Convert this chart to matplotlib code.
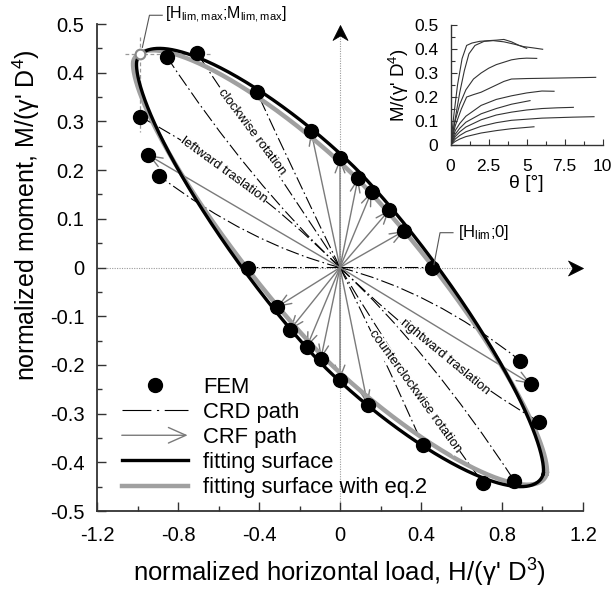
import numpy as np
import matplotlib
matplotlib.use("Agg")
import matplotlib.pyplot as plt
from matplotlib.path import Path
from matplotlib.patches import PathPatch, FancyArrowPatch
from matplotlib.lines import Line2D
from matplotlib.legend_handler import HandlerBase
from matplotlib.ticker import MultipleLocator, FixedLocator

plt.rcParams['font.family'] = ['Liberation Sans', 'DejaVu Sans']
plt.rcParams['mathtext.default'] = 'regular'

# ---------------- data ----------------
# FEM results (normalized H, normalized M)
fem_H = [-0.854, -0.706, -0.410, -0.143, 0.000, 0.089, 0.156, 0.243, 0.316, 0.453,
         -0.988, -0.947, -0.892, -0.456,
         0.889, 0.943, 0.984, 0.861, 0.708, 0.408, 0.137, 0.000, -0.095, -0.164, -0.247, -0.311]
fem_M = [0.432, 0.440, 0.360, 0.280, 0.224, 0.184, 0.156, 0.118, 0.075, 0.000,
         0.310, 0.231, 0.188, 0.000,
         -0.191, -0.239, -0.317, -0.438, -0.443, -0.364, -0.282, -0.230, -0.188, -0.163, -0.128, -0.081]

# CRD paths: end point and a mid point of each (curved) path, starting at origin
crd_end_H = [-0.854, -0.706, -0.410, -0.988, -0.892, -0.456, 0.453, 0.861, 0.708, 0.408, 0.984, 0.889]
crd_end_M = [0.432, 0.440, 0.360, 0.310, 0.188, 0.000, 0.000, -0.438, -0.443, -0.364, -0.317, -0.191]
crd_mid_H = [-0.435, -0.355, -0.208, -0.490, -0.450, -0.228, 0.226, 0.435, 0.360, 0.208, 0.490, 0.450]
crd_mid_M = [0.195, 0.222, 0.180, 0.177, 0.072, 0.000, 0.000, -0.195, -0.238, -0.180, -0.177, -0.072]

# CRF paths: straight from origin to end point
crf_end_H = [-0.143, 0.000, 0.089, 0.156, 0.243, 0.316, -0.947,
             0.137, 0.000, -0.095, -0.164, -0.247, -0.311, 0.943]
crf_end_M = [0.280, 0.224, 0.184, 0.156, 0.118, 0.075, 0.231,
             -0.282, -0.230, -0.188, -0.163, -0.128, -0.081, -0.239]

# fitting surfaces: max H, max M, H at M=0, M at H=0
fit_Hmax, fit_Mmax, fit_H0, fit_M0 = 1.005, 0.450, 0.484, 0.234
eq2_Hmax, eq2_Mmax, eq2_H0, eq2_M0 = 1.022, 0.446, 0.462, 0.216

# limit point
lim_H, lim_M = -0.988, 0.438

# path labels
lab_text = ["clockwise rotation", "leftward traslation", "rightward traslation", "counterclockwise rotation"]
lab_H = [-0.437, -0.573, 0.518, 0.369]
lab_M = [0.279, 0.200, -0.184, -0.255]
lab_rot = [-53, -36, -39.5, -54]

# inset: M/(gamma' D^4) vs theta
ins_theta = [
    [0, 0.2, 0.45, 0.75, 1.05, 1.4, 1.9, 2.5, 3.0, 3.5, 4.0, 4.5, 5.0],
    [0, 0.3, 0.6, 0.9, 1.2, 1.6, 2.2, 2.8, 3.5, 4.2, 4.8, 5.4, 6.05],
    [0, 0.25, 0.6, 1.0, 1.5, 2.0, 2.5, 3.0, 3.5, 4.0, 4.5, 5.0, 5.66],
    [0, 0.3, 0.7, 1.05, 1.5, 2.0, 2.5, 3.0, 3.5, 4.0, 5.0, 7.0, 9.54],
    [0, 0.3, 0.6, 1.0, 2.0, 3.0, 4.0, 5.0, 6.0, 6.8],
    [0, 0.3, 0.6, 1.0, 2.0, 3.0, 4.0, 5.22],
    [0, 0.3, 0.6, 1.0, 2.0, 3.0, 4.0, 5.0, 6.0, 7.0, 8.07],
    [0, 0.3, 0.6, 1.0, 2.0, 3.0, 4.0, 6.0, 8.0, 9.43],
    [0, 0.3, 0.6, 1.0, 2.0, 3.0, 4.0, 5.48],
]
ins_M = [
    [0, 0.12, 0.25, 0.36, 0.415, 0.425, 0.432, 0.435, 0.437, 0.440, 0.430, 0.415, 0.403],
    [0, 0.11, 0.22, 0.31, 0.38, 0.415, 0.432, 0.435, 0.430, 0.420, 0.410, 0.405, 0.399],
    [0, 0.09, 0.17, 0.23, 0.275, 0.300, 0.320, 0.335, 0.345, 0.355, 0.360, 0.362, 0.361],
    [0, 0.08, 0.15, 0.20, 0.21, 0.22, 0.235, 0.250, 0.265, 0.275, 0.277, 0.279, 0.282],
    [0, 0.06, 0.09, 0.12, 0.165, 0.190, 0.205, 0.217, 0.225, 0.224],
    [0, 0.045, 0.07, 0.095, 0.130, 0.152, 0.170, 0.185],
    [0, 0.035, 0.055, 0.075, 0.105, 0.125, 0.137, 0.146, 0.152, 0.155, 0.157],
    [0, 0.025, 0.04, 0.055, 0.078, 0.093, 0.103, 0.112, 0.116, 0.118],
    [0, 0.015, 0.025, 0.035, 0.050, 0.060, 0.068, 0.076],
]


# ---------- closed fitting surface (rotated superellipse matching the read extremes) ----------
def _metrics(x):
    a, b, phi, p = np.exp(x[0]), np.exp(x[1]), x[2], x[3]
    th = np.linspace(-np.pi, np.pi, 20001)
    c, s = np.cos(th), np.sin(th)
    u = c * np.cos(phi) + s * np.sin(phi)
    v = -c * np.sin(phi) + s * np.cos(phi)
    r = (np.abs(u / a) ** p + np.abs(v / b) ** p) ** (-1.0 / p)
    H, M = r * c, r * s

    def rad(t):
        uu = np.cos(t) * np.cos(phi) + np.sin(t) * np.sin(phi)
        vv = -np.cos(t) * np.sin(phi) + np.sin(t) * np.cos(phi)
        return (abs(uu / a) ** p + abs(vv / b) ** p) ** (-1.0 / p)
    return np.array([H.max(), M.max(), rad(0.0), rad(np.pi / 2)])


def surface(Hmax, Mmax, H0, M0, n=1500):
    target = np.array([Hmax, Mmax, H0, M0])
    x = np.array([np.log(1.1), np.log(0.2), -np.arctan(Mmax / Hmax), 2.0])
    try:
        for _ in range(40):
            f = _metrics(x) - target
            if np.max(np.abs(f)) < 1e-6:
                break
            J = np.zeros((4, 4))
            for j in range(4):
                h = 1e-5
                xp, xm = x.copy(), x.copy()
                xp[j] += h
                xm[j] -= h
                J[:, j] = (_metrics(xp) - _metrics(xm)) / (2 * h)
            dx = np.linalg.lstsq(J, -f, rcond=None)[0]
            nrm = np.linalg.norm(dx)
            if nrm > 0.2:
                dx *= 0.2 / nrm
            x = x + dx
            x[3] = min(max(x[3], 1.05), 4.0)
        if not np.all(np.isfinite(x)) or np.max(np.abs(_metrics(x) - target)) > 0.02:
            raise ValueError
    except Exception:
        x = np.array([np.log(1.1), np.log(0.2), -np.arctan(Mmax / Hmax), 2.0])
    a, b, phi, p = np.exp(x[0]), np.exp(x[1]), x[2], x[3]
    t = np.linspace(0, 2 * np.pi, n)
    u = a * np.sign(np.cos(t)) * np.abs(np.cos(t)) ** (2.0 / p)
    v = b * np.sign(np.sin(t)) * np.abs(np.sin(t)) ** (2.0 / p)
    return u * np.cos(phi) - v * np.sin(phi), u * np.sin(phi) + v * np.cos(phi)


# ---------------- figure ----------------
fig = plt.figure(figsize=(6.14, 5.89), dpi=100)
ax = fig.add_axes([0.158, 0.1324, 0.7915, 0.8268])
ax.set_xlim(-1.2, 1.2)
ax.set_ylim(-0.5, 0.5)

spine_col = '#333333'
for s in ['top', 'right']:
    ax.spines[s].set_visible(False)
for s in ['left', 'bottom']:
    ax.spines[s].set_color(spine_col)
    ax.spines[s].set_linewidth(1.3)

ax.xaxis.set_major_locator(MultipleLocator(0.4))
ax.xaxis.set_minor_locator(MultipleLocator(0.2))
ax.yaxis.set_major_locator(MultipleLocator(0.1))
ax.yaxis.set_minor_locator(MultipleLocator(0.05))
ax.tick_params(which='both', direction='in', color=spine_col, width=1.0, labelsize=14.5)
ax.tick_params(which='major', length=6.5)
ax.tick_params(which='minor', length=3.5)
ax.tick_params(axis='x', pad=11)
ax.tick_params(axis='y', pad=9)
ax.xaxis.set_major_formatter(plt.FuncFormatter(lambda v, p: ('%g' % round(v, 2))))
ax.yaxis.set_major_formatter(plt.FuncFormatter(lambda v, p: ('%g' % round(v, 2))))

ax.set_xlabel("normalized horizontal load, H/(γ' D$^3$)", fontsize=18.5)
ax.set_ylabel("normalized moment, M/(γ' D$^4$)", fontsize=18)
ax.xaxis.set_label_coords(0.498, -0.095)
ax.yaxis.set_label_coords(-0.113, 0.608)

# crosshair dotted axes
ax.plot([0, 0], [-0.5, 0.48], color='#9a9a9a', lw=0.8, ls=(0, (1, 1.2)), zorder=1, clip_on=False)
ax.plot([-1.2, 1.18], [0, 0], color='#9a9a9a', lw=0.8, ls=(0, (1, 1.2)), zorder=1, clip_on=False)
head = Path([(0, 0), (-15, 7.5), (-10.5, 0), (-15, -7.5), (0, 0)],
            [Path.MOVETO, Path.LINETO, Path.LINETO, Path.LINETO, Path.CLOSEPOLY])
head_up = Path([(0, 0), (7.5, -15), (0, -10.5), (-7.5, -15), (0, 0)],
               [Path.MOVETO, Path.LINETO, Path.LINETO, Path.LINETO, Path.CLOSEPOLY])
ax.plot([1.2], [0], marker=head, ms=21.6, color='black', mec='black', mew=0.5, clip_on=False, zorder=5)
ax.plot([0], [0.497], marker=head_up, ms=21.6, color='black', mec='black', mew=0.5, clip_on=False, zorder=5)

# CRD paths (curved dash-dot)
crd_ls = (0, (12, 3, 1.5, 3))
for eh, em, mh, mm in zip(crd_end_H, crd_end_M, crd_mid_H, crd_mid_M):
    ch, cm = 2 * mh - 0.5 * eh, 2 * mm - 0.5 * em
    pth = Path([(0, 0), (ch, cm), (eh, em)], [Path.MOVETO, Path.CURVE3, Path.CURVE3])
    ax.add_patch(PathPatch(pth, fill=False, ec='black', lw=0.8, ls=crd_ls, zorder=2))

# CRF paths (gray arrows)
crf_col = '#7a7a7a'
for eh, em in zip(crf_end_H, crf_end_M):
    ax.add_patch(FancyArrowPatch((0, 0), (eh, em), arrowstyle='->,head_length=0.9,head_width=0.35',
                                 mutation_scale=10, color=crf_col, lw=1.0, shrinkA=0, shrinkB=0, zorder=2))

gH, gM = surface(eq2_Hmax, eq2_Mmax, eq2_H0, eq2_M0)
ax.plot(gH, gM, color='#a0a0a0', lw=3.2, zorder=3)
bH, bM = surface(fit_Hmax, fit_Mmax, fit_H0, fit_M0)
ax.plot(bH, bM, color='black', lw=2.4, zorder=3.5)

# FEM points
ax.plot(fem_H, fem_M, 'o', color='black', ms=10, zorder=6)

# limit point with crosshair
ax.plot([lim_H - 0.075, lim_H + 0.345], [lim_M, lim_M], color='#999999', lw=0.9, ls=(0, (3, 2)), zorder=1.5)
ax.plot([lim_H, lim_H], [lim_M + 0.035, lim_M - 0.16], color='#999999', lw=0.9, ls=(0, (3, 2)), zorder=1.5)
ax.plot([lim_H], [lim_M], 'o', mfc='white', mec='#888888', mew=1.5, ms=7, zorder=7)
ax.plot([lim_H + 0.012, lim_H + 0.047, lim_H + 0.11], [lim_M + 0.014, lim_M + 0.08, lim_M + 0.08],
        color='#555555', lw=0.8, clip_on=False, zorder=7)
ax.text(lim_H + 0.122, lim_M + 0.08, "[H$_{lim,max}$;M$_{lim,max}$]", fontsize=11.5, va='center', ha='left')

# H_lim annotation
ax.plot([0.464, 0.494, 0.558], [0.006, 0.0715, 0.0715], color='#555555', lw=0.8, zorder=7)
ax.text(0.583, 0.0715, "[H$_{lim}$;0]", fontsize=12, va='center', ha='left')

# path labels
for t, h, m, r in zip(lab_text, lab_H, lab_M, lab_rot):
    ax.text(h, m, t, fontsize=9.5, rotation=r, rotation_mode='anchor', ha='center', va='center',
            zorder=4, bbox=dict(facecolor='white', edgecolor='none', pad=0.3))


# legend
class CRFProxy:
    pass


class HandlerCRF(HandlerBase):
    def create_artists(self, legend, orig_handle, xdescent, ydescent, width, height, fontsize, trans):
        y = height / 2 - ydescent
        a = FancyArrowPatch((-xdescent, y), (width - xdescent, y),
                            arrowstyle='->,head_length=0.9,head_width=0.4', mutation_scale=14,
                            color=crf_col, lw=1.0, shrinkA=0, shrinkB=0, transform=trans)
        return [a]


handles = [Line2D([], [], ls='none', marker='o', color='black', ms=10),
           Line2D([], [], color='black', lw=0.8, ls=(0, (26, 5, 2, 5))),
           CRFProxy(),
           Line2D([], [], color='black', lw=2.4),
           Line2D([], [], color='#a0a0a0', lw=3.2)]
labels = ["FEM", "CRD path", "CRF path", "fitting surface", "fitting surface with eq.2"]
ax.legend(handles, labels, handler_map={CRFProxy: HandlerCRF()}, loc='upper left',
          bbox_to_anchor=(0.051, 0.276), frameon=False, fontsize=15.8, handlelength=3.0,
          handletextpad=0.7, labelspacing=0.19, borderaxespad=0, borderpad=0)

# ---------------- inset ----------------
axi = fig.add_axes([0.734, 0.7538, 0.2476, 0.2037])
axi.patch.set_alpha(0)
axi.set_xlim(0, 10)
axi.set_ylim(0, 0.5)
for s in ['top', 'right']:
    axi.spines[s].set_visible(False)
for s in ['left', 'bottom']:
    axi.spines[s].set_color(spine_col)
    axi.spines[s].set_linewidth(1.0)
axi.xaxis.set_major_locator(FixedLocator([0, 2.5, 5, 7.5, 10]))
axi.xaxis.set_minor_locator(MultipleLocator(1.25))
axi.yaxis.set_major_locator(MultipleLocator(0.1))
axi.yaxis.set_minor_locator(MultipleLocator(0.05))
axi.tick_params(which='both', direction='in', color=spine_col, width=0.8, labelsize=12.5)
axi.tick_params(axis='x', pad=10)
axi.tick_params(axis='y', pad=9)
axi.tick_params(which='major', length=4)
axi.tick_params(which='minor', length=3)
axi.xaxis.set_major_formatter(plt.FuncFormatter(lambda v, p: ('%g' % v)))
axi.yaxis.set_major_formatter(plt.FuncFormatter(lambda v, p: ('%g' % round(v, 2))))
axi.set_xlabel("θ [°]", fontsize=14, labelpad=1)
axi.set_ylabel("M/(γ' D$^4$)", fontsize=13.5, labelpad=2)
for th, mv in zip(ins_theta, ins_M):
    axi.plot(th, mv, color='#333333', lw=0.8)

fig.savefig("out.png", dpi=100)
